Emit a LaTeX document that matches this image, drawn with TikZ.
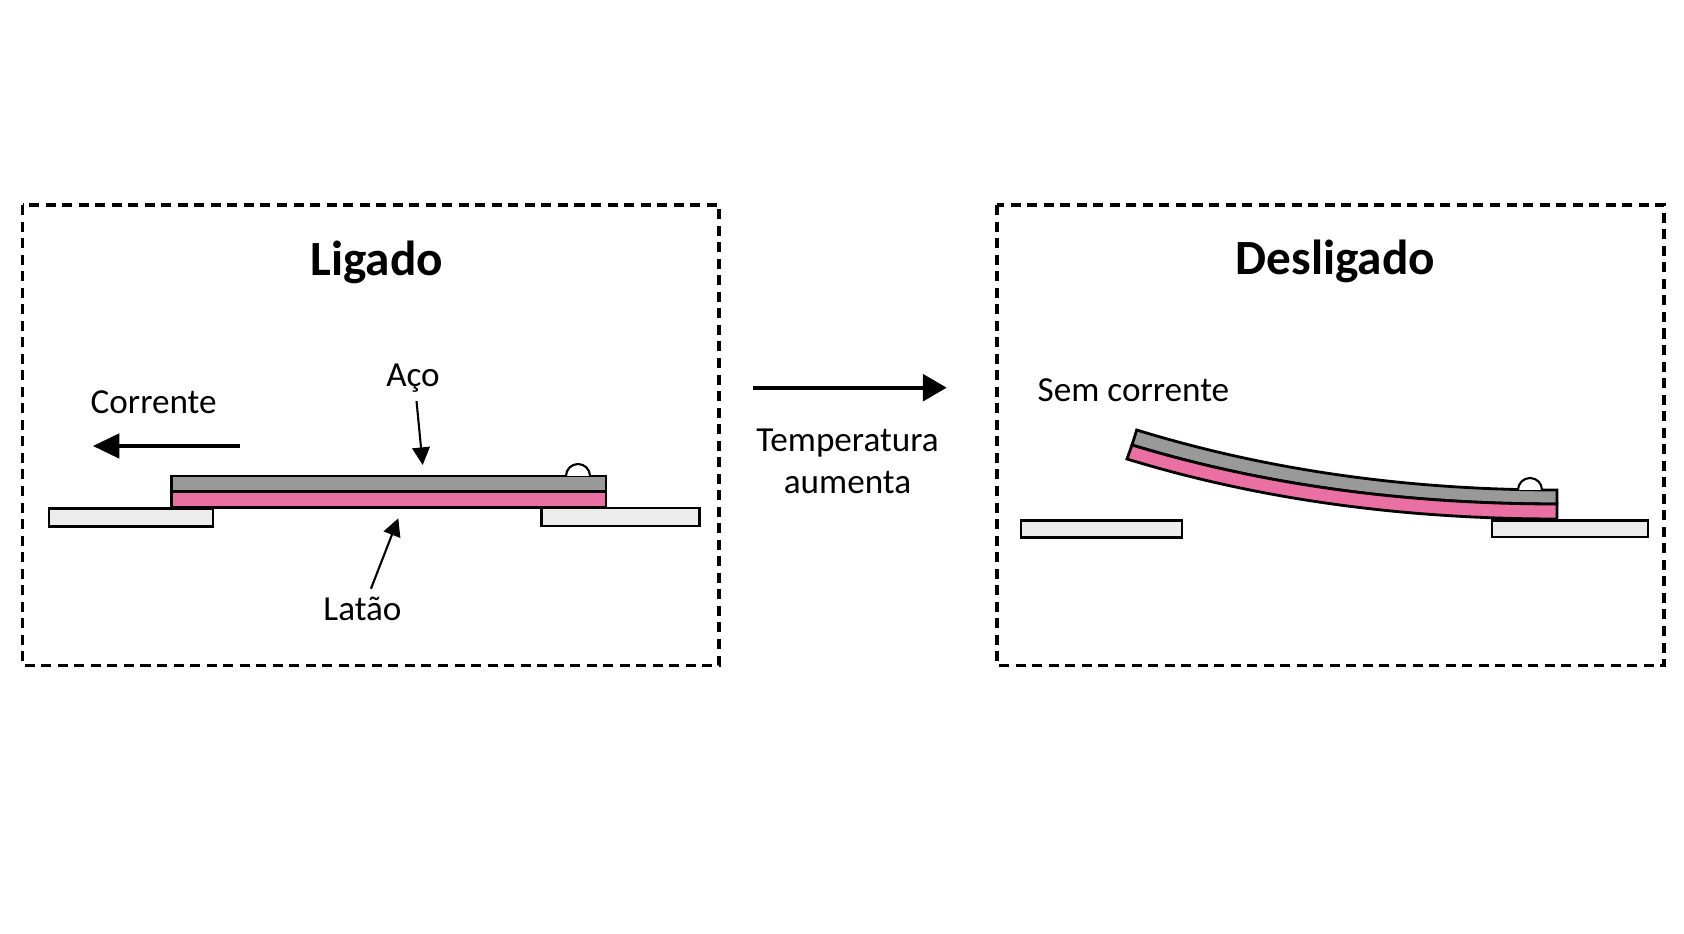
\documentclass[tikz,border=0pt]{standalone}
\usepackage{fontspec}
\setmainfont{Carlito}
\usetikzlibrary{arrows.meta,positioning}
\definecolor{steelgray}{RGB}{153,153,153}
\definecolor{brasspink}{RGB}{234,112,164}
\definecolor{contactgray}{RGB}{236,236,236}

\begin{document}
\begin{tikzpicture}[x=0.01cm, y=-0.01cm,
        panel/.style={draw, line width=0.9pt, dash pattern=on 2.85pt off 1.85pt},
        contact/.style={draw, fill=contactgray, line width=0.8pt},
        steel/.style={draw, fill=steelgray, line width=0.8pt},
        brass/.style={draw, fill=brasspink, line width=0.8pt},
        lbl/.style={inner sep=0pt, font=\fontsize{10}{12.1}\selectfont},
        title/.style={inner sep=0pt, font=\fontsize{14}{17}\selectfont\bfseries},
        ptr/.style={line width=0.6pt, -{Triangle[length=5pt, width=5pt]}}]

        \useasboundingbox (0,0) rectangle (1684,934);

        \draw[panel] (22.5,205) rectangle (719,665.5);
        \draw[panel] (997,205) rectangle (1664,665.5);

        \node[title, anchor=base] (ligado) at (376.7,276) {Ligado};
        \node[title, anchor=base] (desligado) at (1335.5,275) {Desligado};

        \draw[contact] (49,508.5) rectangle (213,526.5);
        \draw[contact] (541.5,508) rectangle (699.3,526);
        \draw[brass] (171.7,491.7) rectangle (606,507.3);
        \draw[steel] (171.7,476) rectangle (606,491.7);
        \draw[fill=white, line width=0.6pt] (566,476) arc[start angle=180, end angle=0, radius=0.12cm];

        \node[lbl, anchor=base west] (corrente) at (90,414) {Corrente};
        \coordinate (corr-start) at (240,446);
        \coordinate (corr-end) at (93,446);
        \draw[line width=0.9pt, -{Triangle[length=7.5pt, width=7pt]}] (corr-start) -- (corr-end);

        \node[lbl, anchor=base] (aco) at (413,386.7) {Aço};
        \coordinate (aco-tip) at (422.7,465);
        \draw[ptr] ([xshift=1pt, yshift=-2.2pt]aco.south) -- (aco-tip);

        \node[lbl, anchor=base] (latao) at (362.5,620.7) {Latão};
        \coordinate (latao-tip) at (398.3,518.3);
        \draw[ptr] ([xshift=2.4pt, yshift=2.2pt]latao.north) -- (latao-tip);

        \coordinate (heat-start) at (752.7,387.7);
        \coordinate (heat-end) at (946.7,387.7);
        \draw[line width=1.1pt, -{Triangle[length=6.8pt, width=7.6pt]}] (heat-start) -- (heat-end);
        \node[lbl, align=center, anchor=north] (temp) at (847.5,428) {Temperatura\\aumenta};

        \node[lbl, anchor=base west] (semcorr) at (1037,401.7) {Sem corrente};

        \draw[contact] (1021,520.7) rectangle (1182,537.7);
        \draw[contact] (1492,520.7) rectangle (1648,537);
        \draw[steel] (1557,490) .. controls (1407,490) and (1266.7,470) .. (1136.7,430)
            -- (1132,445) .. controls (1260.7,484.3) and (1402.3,504) .. (1557,504) -- cycle;
        \draw[brass] (1557,504) .. controls (1402.3,504) and (1260.7,484.3) .. (1132,445)
            -- (1127,459) .. controls (1257.7,499) and (1401,519) .. (1557,519) -- cycle;
        \draw[fill=white, line width=0.6pt] (1518,490) arc[start angle=180, end angle=0, radius=0.12cm];

\end{tikzpicture}
\end{document}
